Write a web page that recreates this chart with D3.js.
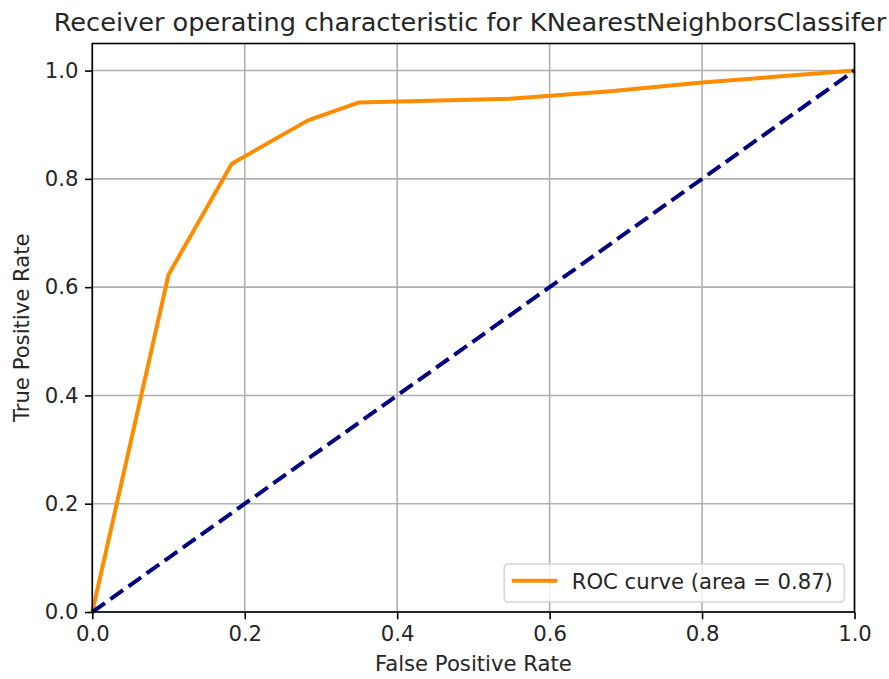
<!DOCTYPE html>
<html>
<head>
<meta charset="utf-8">
<script src="https://cdn.jsdelivr.net/npm/d3@7/dist/d3.min.js"></script>
<style>
  html, body { margin: 0; padding: 0; background: #fff; }
  svg { display: block; }
  text { font-family: "DejaVu Sans", sans-serif; fill: #262626; }
</style>
</head>
<body>
<svg id="chart" width="889" height="679"></svg>
<script>
// Data
const fpr = [0.0, 0.1, 0.183, 0.283, 0.349, 0.548, 0.68, 0.8, 1.0];
const tpr = [0.0, 0.623, 0.828, 0.908, 0.941, 0.948, 0.962, 0.978, 1.0];
const diagX = [0, 1];
const diagY = [0, 1];
const xTicks = [0.0, 0.2, 0.4, 0.6, 0.8, 1.0];
const yTicks = [0.0, 0.2, 0.4, 0.6, 0.8, 1.0];
const titleText = "Receiver operating characteristic for KNearestNeighborsClassifer";
const xLabel = "False Positive Rate";
const yLabel = "True Positive Rate";
const legendLabel = "ROC curve (area = 0.87)";

const svg = d3.select("#chart");
const pLeft = 92.3, pRight = 854.5, pTop = 43.5, pBottom = 612;
const fs = 21.2;

const x = d3.scaleLinear().domain([0, 1]).range([pLeft, pRight]);
const y = d3.scaleLinear().domain([0, 1.05]).range([pBottom, pTop]);

// Grid
const g = svg.append("g");
g.selectAll("line.gx").data(xTicks).enter().append("line")
  .attr("x1", d => x(d)).attr("x2", d => x(d))
  .attr("y1", pTop).attr("y2", pBottom)
  .attr("stroke", "#b0b0b0").attr("stroke-width", 1.6);
g.selectAll("line.gy").data(yTicks).enter().append("line")
  .attr("y1", d => y(d)).attr("y2", d => y(d))
  .attr("x1", pLeft).attr("x2", pRight)
  .attr("stroke", "#b0b0b0").attr("stroke-width", 1.6);

const line = d3.line().x(d => x(d[0])).y(d => y(d[1]));
svg.append("path")
  .datum(fpr.map((v, i) => [v, tpr[i]]))
  .attr("d", line)
  .attr("fill", "none").attr("stroke", "darkorange").attr("stroke-width", 4)
  .attr("stroke-linejoin", "round").attr("stroke-linecap", "butt");

svg.append("path")
  .datum(diagX.map((v, i) => [v, diagY[i]]))
  .attr("d", line)
  .attr("fill", "none").attr("stroke", "navy").attr("stroke-width", 4)
  .attr("stroke-dasharray", "15.5,6.7");

// Axes
const xAxis = d3.axisBottom(x).tickValues(xTicks).tickFormat(d3.format(".1f")).tickSize(7.3).tickPadding(6.5);
const yAxis = d3.axisLeft(y).tickValues(yTicks).tickFormat(d3.format(".1f")).tickSize(7.3).tickPadding(6.5);

const gx = svg.append("g").attr("transform", `translate(0,${pBottom})`).call(xAxis);
const gy = svg.append("g").attr("transform", `translate(${pLeft},0)`).call(yAxis);
[gx, gy].forEach(a => {
  a.select(".domain").remove();
  a.selectAll(".tick line").attr("stroke", "#000").attr("stroke-width", 1.6);
  a.selectAll(".tick text").style("font-family", "DejaVu Sans, sans-serif").style("font-size", fs + "px").attr("fill", "#262626");
});

// Spines
svg.append("rect").attr("x", pLeft).attr("y", pTop).attr("width", pRight - pLeft).attr("height", pBottom - pTop)
  .attr("fill", "none").attr("stroke", "#000").attr("stroke-width", 1.6);

// Title & labels
svg.append("text").attr("x", 470).attr("y", 31)
  .attr("text-anchor", "middle").style("font-size", "25.6px").text(titleText);
svg.append("text").attr("x", (pLeft + pRight) / 2).attr("y", 671)
  .attr("text-anchor", "middle").style("font-size", fs + "px").text(xLabel);
svg.append("text").attr("transform", `translate(29,${(pTop + pBottom) / 2}) rotate(-90)`)
  .attr("text-anchor", "middle").style("font-size", fs + "px").text(yLabel);

// Legend
const lg = svg.append("g");
lg.append("rect").attr("x", 504.3).attr("y", 564).attr("width", 340).attr("height", 38)
  .attr("rx", 4).attr("fill", "#fff").attr("fill-opacity", 0.8).attr("stroke", "#d5d5d5").attr("stroke-width", 1.6);
lg.append("line").attr("x1", 511.7).attr("x2", 557.3).attr("y1", 580.7).attr("y2", 580.7)
  .attr("stroke", "darkorange").attr("stroke-width", 4);
lg.append("text").attr("x", 571.7).attr("y", 589).style("font-size", fs + "px").text(legendLabel);
</script>
</body>
</html>
